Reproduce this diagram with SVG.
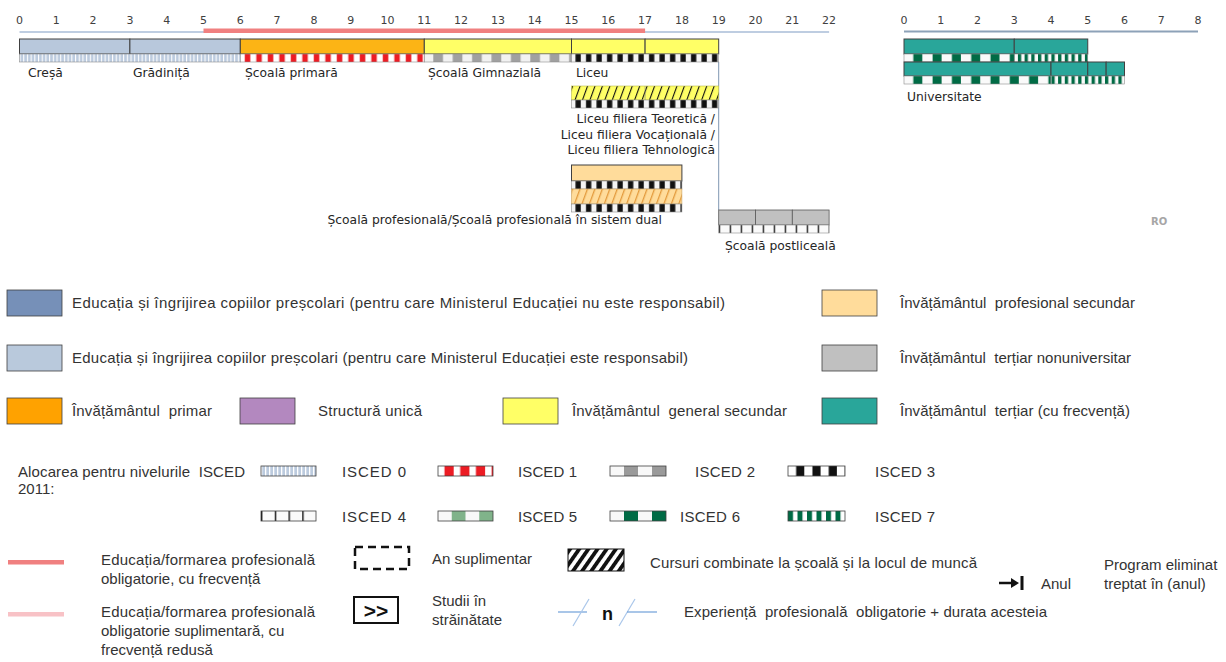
<svg xmlns="http://www.w3.org/2000/svg" width="1226" height="662" viewBox="0 0 1226 662">
<style>
.ax{font-family:"DejaVu Sans",Verdana,sans-serif;font-size:11px;fill:#404040;text-anchor:middle}
.lb{font-family:"DejaVu Sans",Verdana,sans-serif;font-size:12.3px;fill:#262626}
.lg{font-family:"Liberation Sans",Arial,sans-serif;font-size:15px;fill:#333;white-space:pre}
.bx{stroke:#404040;stroke-width:1}
.st{stroke:#8c8c8c;stroke-width:0.6}
.sw{stroke:#404040;stroke-width:0.8}
</style>
<defs>
<pattern id="p0" x="19.5" y="0" width="3.7" height="10" patternUnits="userSpaceOnUse"><rect width="3.7" height="10" fill="#bccbde"/><rect width="1.1" height="10" fill="#fff"/></pattern>
<pattern id="p1" x="240.3" y="0" width="11.5" height="10" patternUnits="userSpaceOnUse"><rect width="11.5" height="10" fill="#fff"/><rect x="4.5" width="5.5" height="10" fill="#ec1c24"/></pattern>
<pattern id="p2" x="424.3" y="0" width="19.4" height="10" patternUnits="userSpaceOnUse"><rect width="19.4" height="10" fill="#f2f2f2"/><rect x="9" width="9.7" height="10" fill="#a0a0a0"/></pattern>
<pattern id="p3" x="571.5" y="0" width="10.5" height="10" patternUnits="userSpaceOnUse"><rect width="10.5" height="10" fill="#f4f4f4"/><rect x="4" width="5.3" height="10" fill="#111"/></pattern>
<pattern id="p4" x="718.7" y="0" width="11" height="10" patternUnits="userSpaceOnUse"><rect width="11" height="10" fill="#fafafa"/><rect width="1.3" height="10" fill="#111"/></pattern>
<pattern id="p6" x="904" y="0" width="19.3" height="10" patternUnits="userSpaceOnUse"><rect width="19.3" height="10" fill="#fafafa"/><rect x="9.3" width="9" height="10" fill="#006b45"/></pattern>
<pattern id="p7" x="904" y="0" width="6.7" height="10" patternUnits="userSpaceOnUse"><rect width="6.7" height="10" fill="#fafafa"/><rect width="3.3" height="10" fill="#006b45"/></pattern>
<pattern id="hY" width="7" height="7" patternUnits="userSpaceOnUse" patternTransform="rotate(20)"><rect width="7" height="7" fill="#ffff66"/><rect width="1.1" height="7" fill="#111"/></pattern>
<pattern id="hO" width="7" height="7" patternUnits="userSpaceOnUse" patternTransform="rotate(20)"><rect width="7" height="7" fill="#ffdc9b"/><rect width="1.3" height="7" fill="#e39a3c"/></pattern>
<pattern id="hL" width="7.5" height="7.5" patternUnits="userSpaceOnUse" patternTransform="rotate(35)"><rect width="7.5" height="7.5" fill="#fff"/><rect width="3.8" height="7.5" fill="#111"/></pattern>
<pattern id="L0" x="261" y="0" width="4" height="10" patternUnits="userSpaceOnUse"><rect width="4" height="10" fill="#bccbde"/><rect width="1.3" height="10" fill="#fff"/></pattern>
<pattern id="L1" x="438" y="0" width="15.71" height="10" patternUnits="userSpaceOnUse"><rect width="15.71" height="10" fill="#fff"/><rect x="6.5" width="9.2" height="10" fill="#ec1c24"/></pattern>
<pattern id="L2" x="610" y="0" width="28" height="10" patternUnits="userSpaceOnUse"><rect width="28" height="10" fill="#f8f8f8"/><rect x="14" width="14" height="10" fill="#9a9a9a"/></pattern>
<pattern id="L3" x="788" y="0" width="16.29" height="10" patternUnits="userSpaceOnUse"><rect width="16.29" height="10" fill="#fff"/><rect x="8.14" width="8.14" height="10" fill="#111"/></pattern>
<pattern id="L4" x="261" y="0" width="13.75" height="10" patternUnits="userSpaceOnUse"><rect width="13.75" height="10" fill="#fafafa"/><rect width="1.4" height="10" fill="#111"/></pattern>
<pattern id="L5" x="438" y="0" width="27.5" height="10" patternUnits="userSpaceOnUse"><rect width="27.5" height="10" fill="#f8f8f8"/><rect x="13.75" width="13.75" height="10" fill="#80b38a"/></pattern>
<pattern id="L6" x="610" y="0" width="28" height="10" patternUnits="userSpaceOnUse"><rect width="28" height="10" fill="#f8f8f8"/><rect x="14" width="14" height="10" fill="#006b45"/></pattern>
<pattern id="L7" x="788" y="0" width="9.5" height="10" patternUnits="userSpaceOnUse"><rect width="9.5" height="10" fill="#fff"/><rect width="5" height="10" fill="#006b45"/></pattern>
</defs>
<rect width="1226" height="662" fill="#fff"/>

<g id="axis-left">
<line x1="19.5" y1="32" x2="829.1" y2="32" stroke="#7f9cc4" stroke-width="1.2"/>
<rect x="203.5" y="28.5" width="441.6" height="4.5" fill="#f08080"/>
<text class="ax" x="19.5" y="24">0</text><text class="ax" x="56.3" y="24">1</text><text class="ax" x="93.1" y="24">2</text><text class="ax" x="129.9" y="24">3</text><text class="ax" x="166.7" y="24">4</text><text class="ax" x="203.5" y="24">5</text><text class="ax" x="240.3" y="24">6</text><text class="ax" x="277.1" y="24">7</text><text class="ax" x="313.9" y="24">8</text><text class="ax" x="350.7" y="24">9</text><text class="ax" x="387.5" y="24">10</text><text class="ax" x="424.3" y="24">11</text><text class="ax" x="461.1" y="24">12</text><text class="ax" x="497.9" y="24">13</text><text class="ax" x="534.7" y="24">14</text><text class="ax" x="571.5" y="24">15</text><text class="ax" x="608.3" y="24">16</text><text class="ax" x="645.1" y="24">17</text><text class="ax" x="681.9" y="24">18</text><text class="ax" x="718.7" y="24">19</text><text class="ax" x="755.5" y="24">20</text><text class="ax" x="792.3" y="24">21</text><text class="ax" x="829.1" y="24">22</text>
</g>

<g id="axis-right">
<line x1="904" y1="31.5" x2="1198" y2="31.5" stroke="#8da2b8" stroke-width="2"/>
<text class="ax" x="904" y="24">0</text><text class="ax" x="940.75" y="24">1</text><text class="ax" x="977.5" y="24">2</text><text class="ax" x="1014.25" y="24">3</text><text class="ax" x="1051" y="24">4</text><text class="ax" x="1087.75" y="24">5</text><text class="ax" x="1124.5" y="24">6</text><text class="ax" x="1161.25" y="24">7</text><text class="ax" x="1198" y="24">8</text>
</g>

<g id="connectors">
<line x1="718.7" y1="62" x2="718.7" y2="210" stroke="#7f97b2" stroke-width="1"/>
</g>

<g id="cresa">
<rect class="bx" x="19.5" y="39" width="110.4" height="15" fill="#b8c8dc"/>
<text class="lb" x="28" y="77">Creșă</text>
</g>
<g id="gradinita">
<rect class="bx" x="129.9" y="39" width="110.4" height="15" fill="#b8c8dc"/>
<rect class="st" x="19.5" y="54" width="220.8" height="8" fill="url(#p0)"/>
<text class="lb" x="133" y="77">Grădiniță</text>
</g>
<g id="scoala-primara">
<rect class="bx" x="240.3" y="39" width="184" height="15" fill="#fcb415"/>
<rect class="st" x="240.3" y="54" width="184" height="8" fill="url(#p1)"/>
<text class="lb" x="245" y="77">Școală primară</text>
</g>
<g id="scoala-gimnaziala">
<rect class="bx" x="424.3" y="39" width="147.2" height="15" fill="#ffff66"/>
<rect class="st" x="424.3" y="54" width="147.2" height="8" fill="url(#p2)"/>
<text class="lb" x="428" y="77">Școală Gimnazială</text>
</g>
<g id="liceu">
<rect class="bx" x="571.5" y="39" width="73.6" height="15" fill="#ffff66"/>
<rect class="bx" x="645.1" y="39" width="73.6" height="15" fill="#ffff66"/>
<rect class="st" x="571.5" y="54" width="147.2" height="8" fill="url(#p3)"/>
<text class="lb" x="576" y="77">Liceu</text>
</g>
<g id="liceu-filiera">
<rect x="571.5" y="86" width="147.2" height="14" fill="url(#hY)" stroke="#bdbd50" stroke-width="0.6"/>
<line x1="645.1" y1="86" x2="645.1" y2="100" stroke="#888" stroke-width="0.6"/>
<rect class="st" x="571.5" y="100" width="147.2" height="8" fill="url(#p3)"/>
<text class="lb" x="715" y="123" text-anchor="end">Liceu filiera Teoretică /</text>
<text class="lb" x="715" y="139" text-anchor="end">Liceu filiera Vocațională /</text>
<text class="lb" x="715" y="154" text-anchor="end">Liceu filiera Tehnologică</text>
</g>
<g id="scoala-profesionala">
<rect class="bx" x="571.5" y="165" width="110.4" height="16" fill="#ffdc9b"/>
<rect class="st" x="571.5" y="181" width="110.4" height="8" fill="url(#p3)"/>
<rect x="571.5" y="189" width="110.4" height="15" fill="url(#hO)" stroke="#c9a060" stroke-width="0.6"/>
<rect class="st" x="571.5" y="204" width="110.4" height="8" fill="url(#p3)"/>
<text class="lb" x="662" y="224" text-anchor="end">Școală profesională/Școală profesională în sistem dual</text>
</g>
<g id="scoala-postliceala">
<rect x="718.7" y="210" width="36.8" height="15" fill="#c0c0c0" stroke="#595959" stroke-width="0.8"/>
<rect x="755.5" y="210" width="36.8" height="15" fill="#c0c0c0" stroke="#595959" stroke-width="0.8"/>
<rect x="792.3" y="210" width="36.8" height="15" fill="#c0c0c0" stroke="#595959" stroke-width="0.8"/>
<rect class="st" x="718.7" y="225" width="110.4" height="8" fill="url(#p4)"/>
<text class="lb" x="725" y="250">Școală postliceală</text>
</g>
<g id="universitate">
<rect class="bx" x="904" y="39" width="110.25" height="15" fill="#29a69a"/>
<rect class="bx" x="1014.25" y="39" width="73.5" height="15" fill="#29a69a"/>
<rect class="st" x="904" y="54" width="110.25" height="8" fill="url(#p6)"/>
<rect class="st" x="1014.25" y="54" width="73.5" height="8" fill="url(#p7)"/>
<rect class="bx" x="904" y="62" width="147" height="14" fill="#29a69a"/>
<rect class="bx" x="1051" y="62" width="36.75" height="14" fill="#29a69a"/>
<rect class="bx" x="1087.75" y="62" width="18.4" height="14" fill="#29a69a"/>
<rect class="bx" x="1106.15" y="62" width="18.35" height="14" fill="#29a69a"/>
<rect class="st" x="904" y="76" width="147" height="8" fill="url(#p6)"/>
<rect class="st" x="1051" y="76" width="73.5" height="8" fill="url(#p7)"/>
<text class="lb" x="907" y="101">Universitate</text>
</g>
<g id="country">
<text x="1151" y="225" font-family="DejaVu Sans, sans-serif" font-size="10" font-weight="bold" fill="#a6a6a6">RO</text>
</g>

<g id="legend-colours">
<rect class="sw" x="7" y="290" width="55" height="26" fill="#7690b8"/>
<text class="lg" x="72" y="307.5" textLength="653" lengthAdjust="spacing">Educația și îngrijirea copiilor preșcolari (pentru care Ministerul Educației nu este responsabil)</text>
<rect class="sw" x="7" y="345" width="55" height="26" fill="#b9c9dc"/>
<text class="lg" x="72" y="362.5" textLength="616" lengthAdjust="spacing">Educația și îngrijirea copiilor preșcolari (pentru care Ministerul Educației este responsabil)</text>
<rect class="sw" x="7" y="398" width="55" height="26" fill="#ffa200"/>
<text class="lg" x="72" y="415.5" textLength="140" lengthAdjust="spacing">Învățământul  primar</text>
<rect class="sw" x="240" y="398" width="55" height="26" fill="#b388bf"/>
<text class="lg" x="318" y="415.5" textLength="104" lengthAdjust="spacing">Structură unică</text>
<rect class="sw" x="503" y="398" width="55" height="26" fill="#ffff66"/>
<text class="lg" x="572" y="415.5" textLength="215" lengthAdjust="spacing">Învățământul  general secundar</text>
<rect class="sw" x="822" y="290" width="55" height="26" fill="#ffdc9b"/>
<text class="lg" x="900" y="307.5" textLength="235" lengthAdjust="spacing">Învățământul  profesional secundar</text>
<rect class="sw" x="822" y="345" width="55" height="26" fill="#c0c0c0"/>
<text class="lg" x="900" y="362.5" textLength="231" lengthAdjust="spacing">Învățământul  terțiar nonuniversitar</text>
<rect class="sw" x="822" y="398" width="55" height="26" fill="#29a69a"/>
<text class="lg" x="900" y="415.5" textLength="230" lengthAdjust="spacing">Învățământul  terțiar (cu frecvență)</text>
</g>

<g id="legend-isced">
<text class="lg" x="18" y="476.5" textLength="227" lengthAdjust="spacing">Alocarea pentru nivelurile  ISCED</text>
<text class="lg" x="18" y="494">2011:</text>
<rect class="sw" x="261" y="466" width="55" height="10" fill="url(#L0)" stroke="#a0a0a0"/>
<text class="lg" x="342" y="476.5" textLength="64" lengthAdjust="spacing">ISCED 0</text>
<rect class="sw" x="438" y="466" width="55" height="10" fill="url(#L1)"/>
<text class="lg" x="518" y="476.5" textLength="59" lengthAdjust="spacing">ISCED 1</text>
<rect class="sw" x="610" y="466" width="56" height="10" fill="url(#L2)"/>
<text class="lg" x="695" y="476.5" textLength="60" lengthAdjust="spacing">ISCED 2</text>
<rect class="sw" x="788" y="466" width="57" height="10" fill="url(#L3)"/>
<text class="lg" x="875" y="476.5" textLength="60" lengthAdjust="spacing">ISCED 3</text>
<rect class="sw" x="261" y="511" width="55" height="10" fill="url(#L4)"/>
<text class="lg" x="342" y="521.5" textLength="64" lengthAdjust="spacing">ISCED 4</text>
<rect class="sw" x="438" y="511" width="55" height="10" fill="url(#L5)"/>
<text class="lg" x="518" y="521.5" textLength="59" lengthAdjust="spacing">ISCED 5</text>
<rect class="sw" x="610" y="511" width="56" height="10" fill="url(#L6)"/>
<text class="lg" x="680" y="521.5" textLength="60" lengthAdjust="spacing">ISCED 6</text>
<rect class="sw" x="788" y="511" width="57" height="10" fill="url(#L7)"/>
<text class="lg" x="875" y="521.5" textLength="60" lengthAdjust="spacing">ISCED 7</text>
</g>

<g id="legend-compulsory">
<rect x="8" y="560" width="56" height="4.5" fill="#f08080"/>
<text class="lg" x="101" y="565" textLength="214" lengthAdjust="spacing">Educația/formarea profesională</text>
<text class="lg" x="101" y="583.5">obligatorie, cu frecvență</text>
</g>
<g id="legend-compulsory-part-time">
<rect x="8" y="612" width="56" height="4.5" fill="#f8c2c6"/>
<text class="lg" x="101" y="617" textLength="214" lengthAdjust="spacing">Educația/formarea profesională</text>
<text class="lg" x="101" y="636">obligatorie suplimentară, cu</text>
<text class="lg" x="101" y="655">frecvență redusă</text>
</g>
<g id="legend-extra-year">
<rect x="355" y="547" width="54" height="22" fill="none" stroke="#111" stroke-width="2.5" stroke-dasharray="8,5"/>
<text class="lg" x="432" y="564">An suplimentar</text>
</g>
<g id="legend-abroad">
<rect x="354" y="597" width="44" height="26" fill="#fff" stroke="#111" stroke-width="2"/>
<text x="376" y="617.5" font-family="Liberation Sans, Arial, sans-serif" font-size="21" font-weight="bold" fill="#111" text-anchor="middle">&gt;&gt;</text>
<text class="lg" x="432" y="606">Studii în</text>
<text class="lg" x="432" y="625">străinătate</text>
</g>
<g id="legend-combined">
<rect x="568" y="549" width="56" height="22" fill="url(#hL)" stroke="#111" stroke-width="1"/>
<text class="lg" x="650" y="568" textLength="327" lengthAdjust="spacing">Cursuri combinate la școală și la locul de muncă</text>
</g>
<g id="legend-phased-out">
<line x1="999" y1="583" x2="1013" y2="583" stroke="#111" stroke-width="2.5"/>
<polygon points="1011,578 1019,583 1011,588" fill="#111"/>
<rect x="1020.5" y="576" width="3" height="14" fill="#111"/>
<text class="lg" x="1041" y="589" font-size="16">Anul</text>
<text class="lg" x="1104" y="570">Program eliminat</text>
<text class="lg" x="1104" y="589">treptat în (anul)</text>
</g>
<g id="legend-work-experience">
<line x1="558" y1="612" x2="587" y2="612" stroke="#6f9fd8" stroke-width="1.2"/>
<line x1="573" y1="626" x2="589" y2="599" stroke="#a9c6ea" stroke-width="1.2"/>
<line x1="619" y1="626" x2="635" y2="599" stroke="#a9c6ea" stroke-width="1.2"/>
<line x1="627" y1="612" x2="657" y2="612" stroke="#6f9fd8" stroke-width="1.2"/>
<text x="602" y="619.5" font-family="Liberation Sans, Arial, sans-serif" font-size="18" font-weight="bold" fill="#111">n</text>
<text class="lg" x="684" y="617" textLength="363" lengthAdjust="spacing">Experiență  profesională  obligatorie + durata acesteia</text>
</g>
</svg>
